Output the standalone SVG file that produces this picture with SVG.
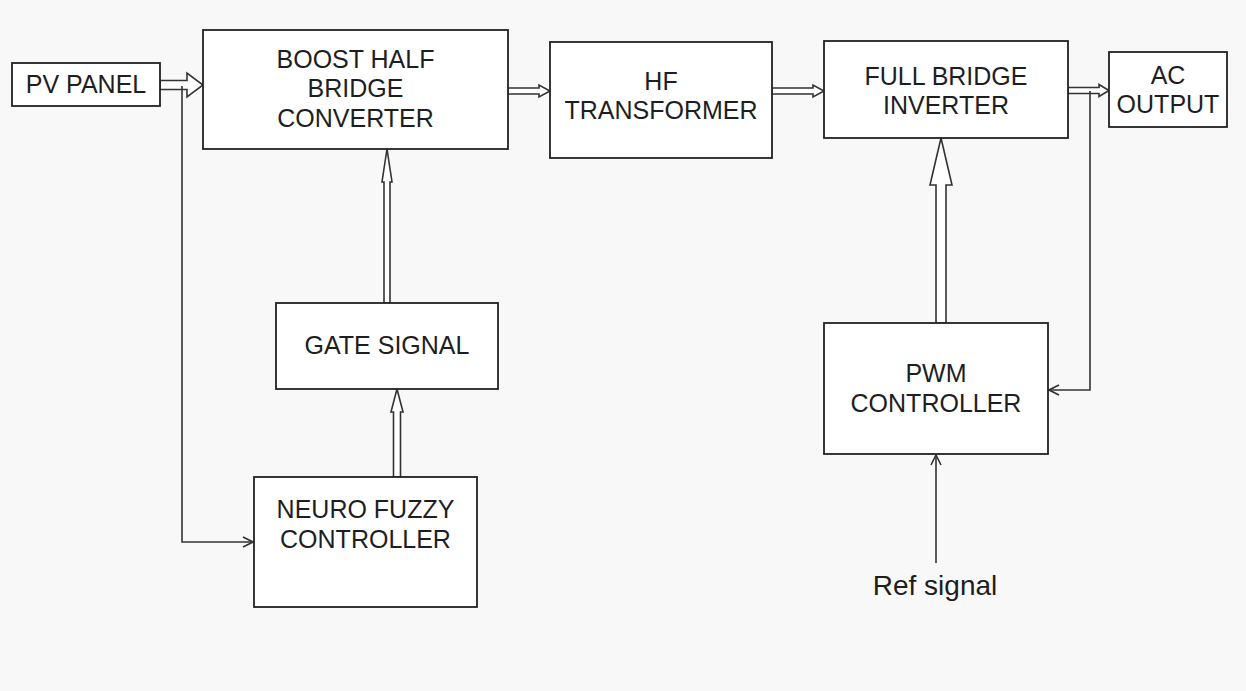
<svg xmlns="http://www.w3.org/2000/svg" width="1246" height="691" viewBox="0 0 1246 691">
<style>
.box{fill:#fff;stroke:#222;stroke-width:1.8}
.t{font-family:"Liberation Sans",Arial,sans-serif;font-size:25px;fill:#1e1e1e;text-anchor:middle}
.big{fill:#fff;stroke:#333;stroke-width:1.6;stroke-linejoin:miter}
.thin{fill:none;stroke:#333;stroke-width:1.6}
</style>
<defs>
<marker id="open" viewBox="0 0 12 12" refX="11" refY="6" markerWidth="12" markerHeight="12" markerUnits="userSpaceOnUse" orient="auto">
<path d="M1,1 L11,6 L1,11" fill="none" stroke="#333" stroke-width="1.6"/>
</marker>
</defs>
<rect width="1246" height="691" fill="#f8f8f8"/>
<g id="connectors">
<path class="big" d="M160,80.5 H187 V73 L203,85 L187,97 V89.5 H160 Z"/>
<path class="big" d="M508,88 H539 V85 L550,91 L539,97 V94 H508 Z"/>
<path class="big" d="M772,88 H813 V85 L824,91 L813,97 V94 H772 Z"/>
<path class="big" d="M1068,87.5 H1099 V84.5 L1109,90.5 L1099,96.5 V93.5 H1068 Z"/>
<path class="big" d="M384,303 V182 H382 L387,149 L392,182 H390 V303 Z"/>
<path class="big" d="M393.5,477 V412 H391 L397,389 L403,412 H400.5 V477 Z"/>
<path class="big" d="M936,323 V185 H930 L941,138 L952,185 H946 V323 Z"/>
<polyline class="thin" points="182,86 182,542 253,542" marker-end="url(#open)"/>
<polyline class="thin" points="1090,91 1090,390 1049,390" marker-end="url(#open)"/>
<line class="thin" x1="936" y1="563" x2="936" y2="455" marker-end="url(#open)"/>
</g>
<g id="pv-panel">
<rect class="box" x="12" y="63" width="148" height="43"/>
<text class="t" x="86" y="93">PV PANEL</text>
</g>
<g id="boost">
<rect class="box" x="203" y="30" width="305" height="119"/>
<text class="t" x="355.5" y="67.5">BOOST HALF</text>
<text class="t" x="355.5" y="97">BRIDGE</text>
<text class="t" x="355.5" y="126.5">CONVERTER</text>
</g>
<g id="hf-transformer">
<rect class="box" x="550" y="42" width="222" height="116"/>
<text class="t" x="661" y="89.5">HF</text>
<text class="t" x="661" y="118.5">TRANSFORMER</text>
</g>
<g id="inverter">
<rect class="box" x="824" y="41" width="244" height="97"/>
<text class="t" x="946" y="84.5">FULL BRIDGE</text>
<text class="t" x="946" y="113.5">INVERTER</text>
</g>
<g id="ac-output">
<rect class="box" x="1109" y="52" width="118" height="75"/>
<text class="t" x="1168" y="83.5">AC</text>
<text class="t" x="1168" y="112.5">OUTPUT</text>
</g>
<g id="gate-signal">
<rect class="box" x="276" y="303" width="222" height="86"/>
<text class="t" x="387" y="354">GATE SIGNAL</text>
</g>
<g id="neuro-fuzzy">
<rect class="box" x="254" y="477" width="223" height="130"/>
<text class="t" x="365.5" y="518">NEURO FUZZY</text>
<text class="t" x="365.5" y="548">CONTROLLER</text>
</g>
<g id="pwm">
<rect class="box" x="824" y="323" width="224" height="131"/>
<text class="t" x="936" y="382">PWM</text>
<text class="t" x="936" y="412">CONTROLLER</text>
</g>
<g id="ref-signal">
<text class="t" x="935" y="595" style="font-size:28px">Ref signal</text>
</g>
</svg>
